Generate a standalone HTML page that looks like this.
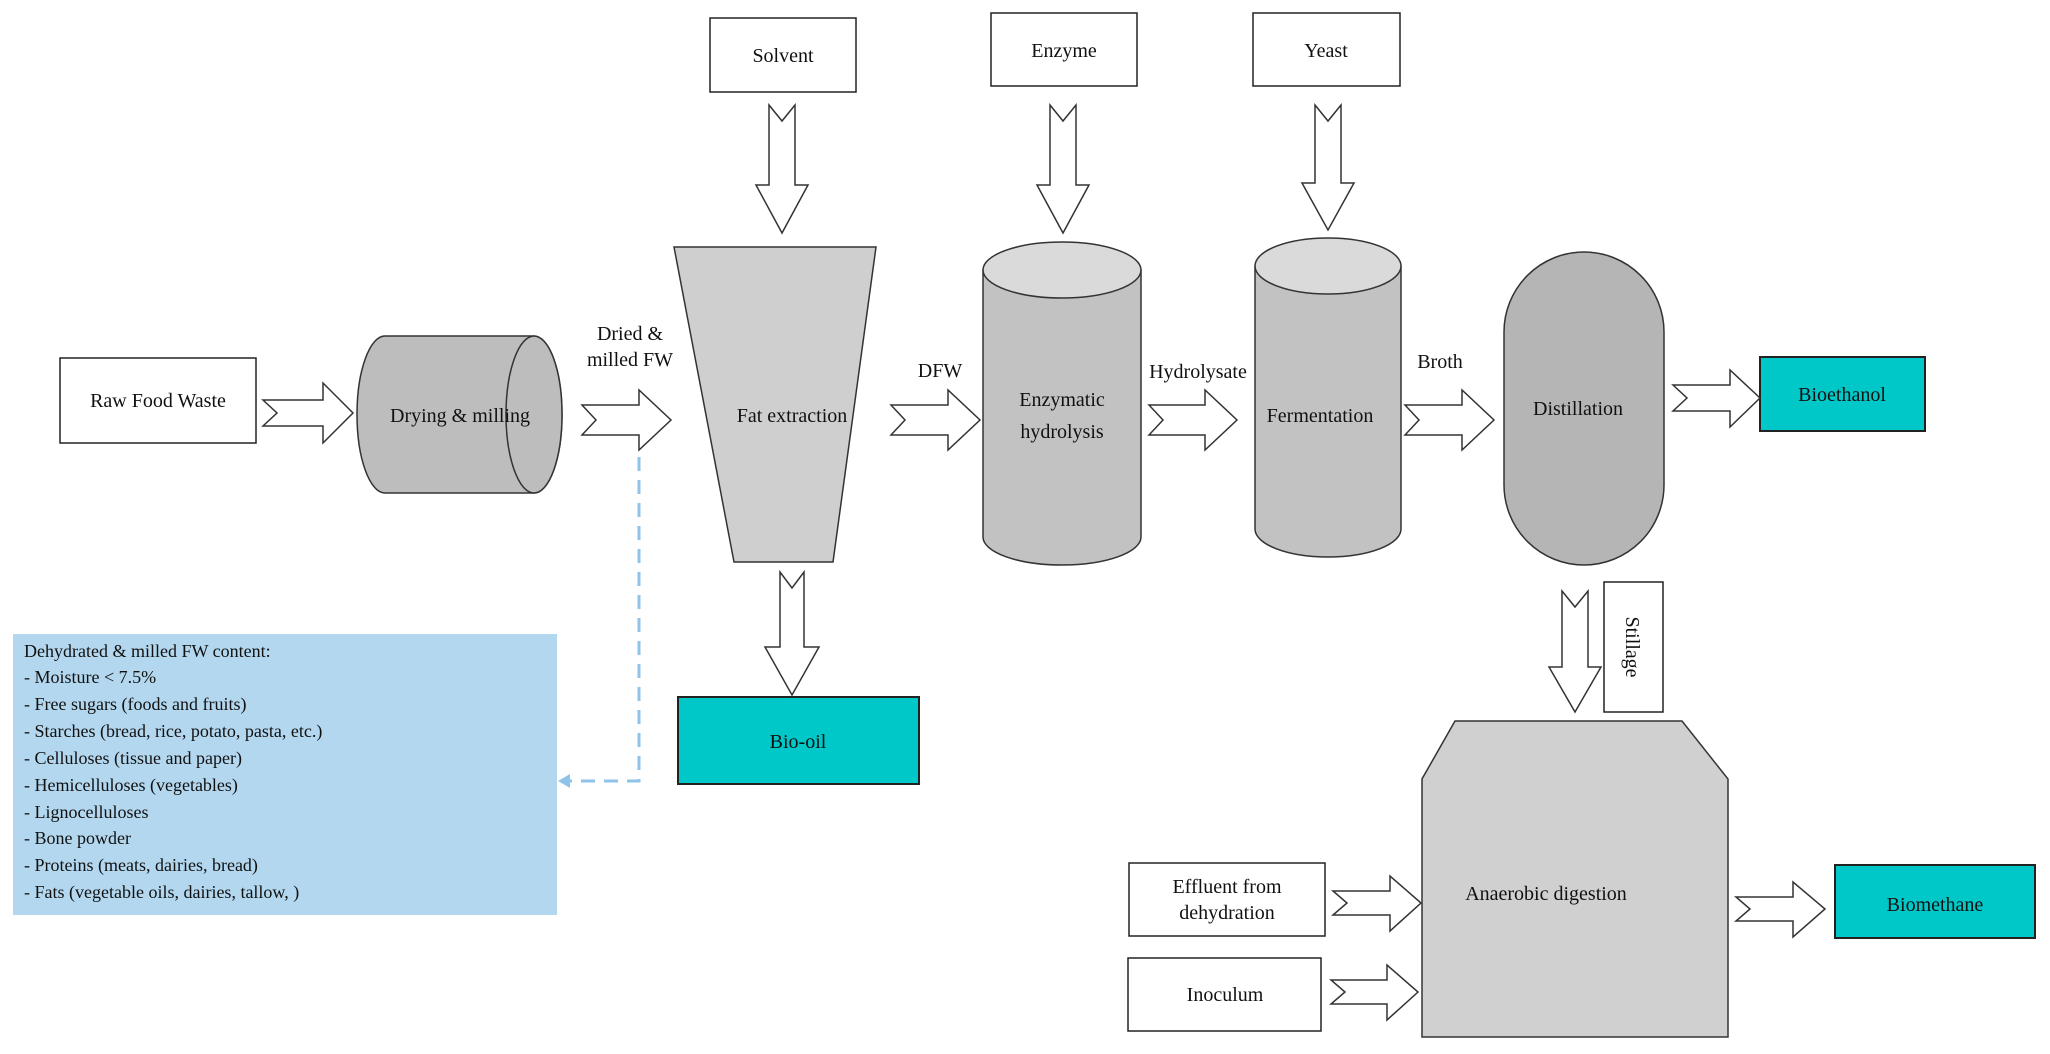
<!DOCTYPE html>
<html><head><meta charset="utf-8"><style>
html,body{margin:0;padding:0;background:#fff}
svg{display:block}
text{font-family:"Liberation Serif",serif;font-size:20px;fill:#111}
</style></head><body>
<svg width="2050" height="1054" viewBox="0 0 2050 1054" xmlns="http://www.w3.org/2000/svg">
<g stroke="#222" stroke-width="1.5" fill="#fff">
<rect x="710" y="18" width="146" height="74"/>
<rect x="991" y="13" width="146" height="73"/>
<rect x="1253" y="13" width="147" height="73"/>
<rect x="60" y="358" width="196" height="85"/>
<rect x="1129" y="863" width="196" height="73"/>
<rect x="1128" y="958" width="193" height="73"/>
<rect x="1604" y="582" width="59" height="130"/>
</g>
<g stroke="#333" stroke-width="1.5">
<path d="M385,336 L534,336 A28,78.5 0 0 1 534,493 L385,493 A28,78.5 0 0 1 385,336 Z" fill="#bdbdbd"/>
<ellipse cx="534" cy="414.5" rx="28" ry="78.5" fill="#bdbdbd"/>
<polygon points="674,247 876,247 833,562 734,562" fill="#cfcfcf"/>
<path d="M983,270 L983,537 A79,28 0 0 0 1141,537 L1141,270 Z" fill="#c2c2c2"/>
<ellipse cx="1062" cy="270" rx="79" ry="28" fill="#dadada"/>
<path d="M1255,266 L1255,529 A73,28 0 0 0 1401,529 L1401,266 Z" fill="#c2c2c2"/>
<ellipse cx="1328" cy="266" rx="73" ry="28" fill="#dadada"/>
<rect x="1504" y="252" width="160" height="313" rx="80" ry="80" fill="#b5b5b5"/>
<polygon points="1455,721 1682,721 1728,779 1728,1037 1422,1037 1422,779" fill="#d0d0d0"/>
</g>
<g fill="#00c8c8" stroke="#222" stroke-width="2">
<rect x="678" y="697" width="241" height="87"/>
<rect x="1760" y="357" width="165" height="74"/>
<rect x="1835" y="865" width="200" height="73"/>
</g>
<rect x="13" y="634" width="544" height="281" fill="#b3d7ef"/>
<g stroke="#8fc3ea" stroke-width="3" fill="none" stroke-dasharray="14,9">
<polyline points="639,457 639,781 568,781"/>
</g>
<polygon points="558,781 570,774 570,788" fill="#8fc3ea"/>
<g fill="#fff" stroke="#333" stroke-width="1.5">
<polygon points="263,400 323,400 323,383 353,413 323,443 323,426 263,426 277,413"/>
<polygon points="582,405 639,405 639,390 671,420 639,450 639,435 582,435 596,420"/>
<polygon points="891,405 948,405 948,390 980,420 948,450 948,435 891,435 905,420"/>
<polygon points="1149,405 1205,405 1205,390 1237,420 1205,450 1205,435 1149,435 1163,420"/>
<polygon points="1405,405 1462,405 1462,390 1494,420 1462,450 1462,435 1405,435 1419,420"/>
<polygon points="1673,385 1730,385 1730,370 1760,398 1730,427 1730,411 1673,411 1687,398"/>
<polygon points="1333,891 1390,891 1390,876 1421,903 1390,931 1390,915 1333,915 1347,903"/>
<polygon points="1331,980 1387,980 1387,965 1418,992 1387,1020 1387,1004 1331,1004 1345,992"/>
<polygon points="1736,897 1793,897 1793,882 1825,909 1793,937 1793,921 1736,921 1750,909"/>
<polygon points="769,105 782,121 795,105 795,185 808,185 782,233 756,185 769,185"/>
<polygon points="1050,105 1063,121 1076,105 1076,185 1089,185 1063,233 1037,185 1050,185"/>
<polygon points="1315,105 1328,121 1341,105 1341,183 1354,183 1328,230 1302,183 1315,183"/>
<polygon points="780,572 792,588 804,572 804,647 819,647 792,695 765,647 780,647"/>
<polygon points="1562,591 1575,607 1588,591 1588,667 1601,667 1575,712 1549,667 1562,667"/>
</g>
<g text-anchor="middle">
<text x="783" y="62">Solvent</text>
<text x="1064" y="57">Enzyme</text>
<text x="1326" y="57">Yeast</text>
<text x="158" y="407">Raw Food Waste</text>
<text x="460" y="422">Drying &amp; milling</text>
<text x="630" y="340">Dried &amp;</text>
<text x="630" y="366">milled  FW</text>
<text x="792" y="422">Fat extraction</text>
<text x="940" y="377">DFW</text>
<text x="1062" y="406">Enzymatic</text>
<text x="1062" y="438">hydrolysis</text>
<text x="1198" y="378">Hydrolysate</text>
<text x="1320" y="422">Fermentation</text>
<text x="1440" y="368">Broth</text>
<text x="1578" y="415">Distillation</text>
<text x="1842" y="401">Bioethanol</text>
<text x="798" y="748">Bio-oil</text>
<text x="1935" y="911">Biomethane</text>
<text x="1546" y="900">Anaerobic digestion</text>
<text x="1227" y="893">Effluent from</text>
<text x="1227" y="919">dehydration</text>
<text x="1225" y="1001">Inoculum</text>
<text x="0" y="0" transform="translate(1626,647) rotate(90)">Stillage</text>
</g>
<g>
<text x="24" y="657" style="font-size:18px">Dehydrated &amp; milled  FW content:</text>
<text x="24" y="683" style="font-size:18px">- Moisture &lt; 7.5%</text>
<text x="24" y="710" style="font-size:18px">- Free sugars  (foods and fruits)</text>
<text x="24" y="737" style="font-size:18px">- Starches  (bread, rice, potato, pasta, etc.)</text>
<text x="24" y="764" style="font-size:18px">- Celluloses  (tissue and paper)</text>
<text x="24" y="791" style="font-size:18px">- Hemicelluloses  (vegetables)</text>
<text x="24" y="818" style="font-size:18px">- Lignocelluloses</text>
<text x="24" y="844" style="font-size:18px">- Bone powder</text>
<text x="24" y="871" style="font-size:18px">- Proteins (meats, dairies,  bread)</text>
<text x="24" y="898" style="font-size:18px">- Fats (vegetable  oils, dairies,  tallow, )</text>
</g>
</svg>
</body></html>
